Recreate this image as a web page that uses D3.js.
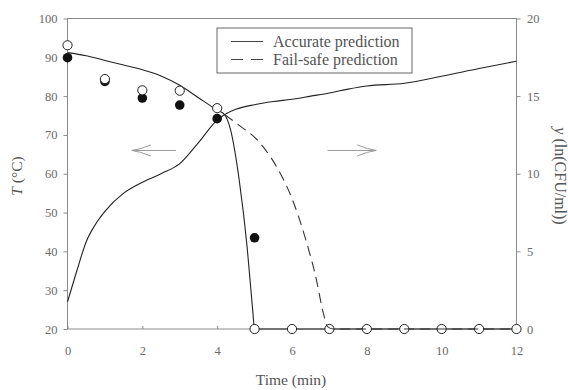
<!DOCTYPE html>
<html><head><meta charset="utf-8">
<script src="https://cdn.jsdelivr.net/npm/d3@7"></script>
<style>body{margin:0;background:#fff}svg{display:block}</style>
</head><body>
<svg id="c" width="568" height="390"></svg>
<script>
// ---- data ----
const timeTicks = [0, 2, 4, 6, 8, 10, 12];
const tempTicks = [20, 30, 40, 50, 60, 70, 80, 90, 100];
const yTicks = [0, 5, 10, 15, 20];

// Temperature profile (left axis, °C)
const tempTime = [0, 0.25, 0.5, 0.75, 1, 1.5, 2, 2.5, 3, 3.5, 4, 4.25, 4.5, 5, 5.5, 6, 6.5, 7, 7.5, 8, 9, 10, 11, 12];
const tempVals = [27, 35, 42.5, 47, 50.3, 55, 57.8, 60, 62.6, 68, 73.8, 75.5, 76.6, 77.8, 78.6, 79.2, 80, 80.8, 81.8, 82.6, 83.3, 85.1, 87.1, 89];

// Accurate prediction (right axis, ln(CFU/ml))
const accTime = [0, 0.5, 1, 1.5, 2, 2.5, 3, 3.5, 4, 4.2, 4.35, 4.6, 4.8, 4.95, 5, 12];
const accVals = [17.8, 17.6, 17.3, 17.0, 16.7, 16.3, 15.7, 14.9, 14.1, 13.8, 12.9, 9.4, 5.3, 1.2, 0, 0];

// Fail-safe prediction (right axis)
const failTime = [4.2, 4.6, 5.1, 5.6, 6.0, 6.35, 6.65, 6.83, 6.95, 7.1, 12];
const failVals = [13.8, 13.1, 12.1, 10.4, 8.4, 5.9, 3.2, 1.1, 0.15, 0, 0];

// Measured points (left-axis units)
const filledTime = [0, 1, 2, 3, 4, 5];
const filledVals = [89.9, 83.8, 79.5, 77.7, 74.2, 43.5];
const openTime = [0, 1, 2, 3, 4, 5, 6, 7, 8, 9, 10, 11, 12];
const openVals = [93.1, 84.4, 81.5, 81.4, 76.9, 20, 20, 20, 20, 20, 20, 20, 20];

// ---- chart ----
const svg = d3.select('#c');
const X0 = 67.5, X1 = 516.5, Y0 = 329, Y1 = 18.5;
const x = d3.scaleLinear([0, 12], [X0, X1]);
const yT = d3.scaleLinear([20, 100], [Y0, Y1]);
const yR = d3.scaleLinear([0, 20], [Y0, Y1]);
const serif = '"Liberation Serif", "DejaVu Serif", serif';
const axisCol = '#8a8a8a', textCol = '#555', lineCol = '#222';

function styleAxis(g) {
  g.select('.domain').remove();
  g.selectAll('.tick line').attr('stroke', axisCol);
  g.selectAll('.tick text').attr('fill', '#6a6a6a').style('font-family', serif).style('font-size', '12.5px');
}
svg.append('g').attr('transform', `translate(${X0},0)`)
  .call(d3.axisLeft(yT).tickValues(tempTicks).tickSize(4).tickPadding(6)).call(styleAxis);
svg.append('g').attr('transform', `translate(${X1},0)`)
  .call(d3.axisRight(yR).tickValues(yTicks).tickSize(4).tickPadding(6.5)).call(styleAxis);
svg.append('g').attr('transform', `translate(0,${Y0})`)
  .call(d3.axisBottom(x).tickValues(timeTicks).tickSizeInner(-3).tickSizeOuter(0).tickPadding(17)).call(styleAxis);

// frame
svg.append('rect').attr('x', X0).attr('y', Y1).attr('width', X1 - X0).attr('height', Y0 - Y1)
  .attr('fill', 'none').attr('stroke', axisCol).attr('stroke-width', 1);

// lines
const tempLine = d3.line().x((d, i) => x(tempTime[i])).y(d => yT(d)).curve(d3.curveMonotoneX);
const rLine = (times) => d3.line().x((d, i) => x(times[i])).y(d => yR(d)).curve(d3.curveMonotoneX);

svg.append('path').attr('d', tempLine(tempVals)).attr('fill', 'none').attr('stroke', lineCol).attr('stroke-width', 1.1);
svg.append('path').attr('d', rLine(accTime)(accVals)).attr('fill', 'none').attr('stroke', lineCol).attr('stroke-width', 1.1);

// points
svg.selectAll('.f').data(filledVals).enter().append('circle')
  .attr('cx', (d, i) => x(filledTime[i])).attr('cy', d => yT(d)).attr('r', 4.8).attr('fill', '#111');
svg.selectAll('.o').data(openVals).enter().append('circle')
  .attr('cx', (d, i) => x(openTime[i])).attr('cy', d => yT(d)).attr('r', 4.6)
  .attr('fill', '#fff').attr('stroke', '#222').attr('stroke-width', 1);

svg.append('path').attr('d', rLine(failTime)(failVals)).attr('fill', 'none').attr('stroke', '#333')
  .attr('stroke-width', 1.1).attr('stroke-dasharray', '10,6');

// arrows
function arrow(t0, t1, v) {
  const xa = x(t0), xb = x(t1), yy = yT(v), dir = Math.sign(xb - xa);
  const g = svg.append('g').attr('stroke', '#9a9a9a').attr('stroke-width', 1).attr('fill', 'none');
  g.append('line').attr('x1', xa).attr('y1', yy).attr('x2', xb).attr('y2', yy);
  g.append('path').attr('d', `M${xb - dir * 19},${yy - 5.5} Q${xb - dir * 8},${yy - 1} ${xb},${yy} Q${xb - dir * 8},${yy + 1} ${xb - dir * 19},${yy + 5.5}`);
}
arrow(2.9, 1.72, 66);
arrow(6.95, 8.25, 66);

// legend
const lg = svg.append('g');
lg.append('rect').attr('x', 217).attr('y', 28).attr('width', 195).attr('height', 45)
  .attr('fill', '#fff').attr('stroke', '#666').attr('stroke-width', 1);
lg.append('line').attr('x1', 231).attr('x2', 263).attr('y1', 41.5).attr('y2', 41.5).attr('stroke', '#444').attr('stroke-width', 1);
lg.append('line').attr('x1', 231).attr('x2', 263).attr('y1', 59.5).attr('y2', 59.5).attr('stroke', '#444')
  .attr('stroke-width', 1).attr('stroke-dasharray', '12,8');
const legendLabels = ['Accurate prediction', 'Fail-safe prediction'];
lg.selectAll('text').data(legendLabels).enter().append('text')
  .attr('x', 273).attr('y', (d, i) => 46.5 + i * 18).text(d => d)
  .attr('fill', textCol).style('font-family', serif).style('font-size', '16px');

// axis titles
svg.append('text').attr('x', 291).attr('y', 385).attr('text-anchor', 'middle')
  .attr('fill', textCol).style('font-family', serif).style('font-size', '15.5px').text('Time (min)');
const lt = svg.append('text').attr('transform', 'translate(22,176) rotate(-90)').attr('text-anchor', 'middle')
  .attr('fill', textCol).style('font-family', serif).style('font-size', '15.5px');
lt.append('tspan').attr('font-style', 'italic').text('T');
lt.append('tspan').text(' (°C)');
const rt = svg.append('text').attr('transform', 'translate(555,176) rotate(90)').attr('text-anchor', 'middle')
  .attr('fill', textCol).style('font-family', serif).style('font-size', '16px');
rt.append('tspan').attr('font-style', 'italic').text('y');
rt.append('tspan').text(' (ln(CFU/ml))');
</script>
</body></html>
